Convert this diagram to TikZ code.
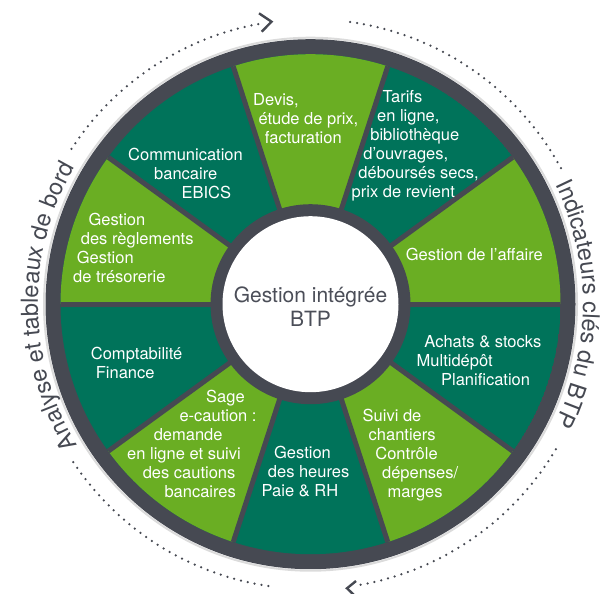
\documentclass[tikz,border=0pt]{standalone}
\usepackage{fontspec}
\setmainfont{TeX Gyre Heros}
\usetikzlibrary{decorations.text}
\definecolor{lg}{HTML}{6AAE23}
\definecolor{dg}{HTML}{00735A}
\definecolor{gr}{HTML}{464952}
\definecolor{ct}{HTML}{4B4E58}
\newcommand\outerfont{\fontsize{23.5}{28}\selectfont}
\begin{document}
\begin{tikzpicture}[x=1pt,y=1pt,
  segtext/.style={text=white, font=\fontsize{16.5}{19}\selectfont, align=left, anchor=base west, inner sep=0pt},
  centertext/.style={text=ct, font=\fontsize{21}{24}\selectfont, align=center, anchor=base, inner sep=0pt},
  dots/.style={gr, line width=2.5pt, line cap=round, dash pattern=on 0pt off 7pt},
  chevron/.style={gr, line width=2.4pt},
  divider/.style={gr, line width=5pt}]
\useasboundingbox (0,0) rectangle (605,-594);
\coordinate (C) at (310.5,-304.2);
% outer ring
\draw[black!14, line width=2pt] (C) circle[radius=266.5];
\fill[gr] (C) circle[radius=265];
% segments
\begin{scope}
  \clip (C) circle[radius=250];
  \fill[dg] (C) circle[radius=250];
  \foreach \a in {0,72,144,216,288}
    \fill[lg] (C) -- ([shift={(\a:300)}]C) arc[start angle=\a, end angle=\a+36, radius=300] -- cycle;
  \foreach \a in {0,36,...,324}
    \draw[divider] (C) -- ([shift={(\a:300)}]C);
\end{scope}
% inner hub
\fill[gr] (C) circle[radius=100];
\fill[white] (C) circle[radius=88];
% (multi-line nodes: base anchor = baseline of the last line)
\node[centertext] (hub) at (310.5,-326) {Gestion intégrée\\BTP};
% segment texts
\node[segtext] (devis) at (253,-143.3) {Devis,\\\hspace*{5.3pt}étude de prix,\\\hspace*{11.7pt}facturation};
\node[segtext] (tarifs) at (351.5,-197.5) {\hspace*{31pt}Tarifs\\\hspace*{25.4pt}en ligne,\\\hspace*{18.7pt}bibliothèque\\\hspace*{11.7pt}d’ouvrages,\\\hspace*{6.7pt}déboursés secs,\\prix de revient};
\node[segtext] (affaire) at (405.7,-260.7) {Gestion de l’affaire};
\node[segtext] (achats) at (416.5,-385.7) {\hspace*{7.7pt}Achats \& stocks\\Multidépôt\\\hspace*{24.4pt}Planification};
\node[segtext] (suivi) at (362.5,-497) {Suivi de\\\hspace*{6pt}chantiers\\\hspace*{12.7pt}Contrôle\\\hspace*{19.4pt}dépenses/\\\hspace*{25pt}marges};
\node[segtext] (heures) at (261.5,-496) {\hspace*{12.4pt}Gestion\\\hspace*{6.2pt}des heures\\Paie \& RH};
\node[segtext] (sage) at (127,-497) {\hspace*{79pt}Sage\\\hspace*{52.3pt}e-caution~:\\\hspace*{26.6pt}demande\\en ligne et suivi\\\hspace*{15.6pt}des cautions\\\hspace*{37.3pt}bancaires};
\node[segtext] (compta) at (90.7,-378.6) {Comptabilité\\\hspace*{5pt}Finance};
\node[segtext] (reglements) at (73,-282.7) {\hspace*{15.3pt}Gestion\\\hspace*{7.7pt}des règlements\\\hspace*{3.7pt}Gestion\\de trésorerie};
\node[segtext] (ebics) at (128,-198) {Communication\\\hspace*{26pt}bancaire\\\hspace*{53.3pt}EBICS};
% outer curved texts
\path[decorate, decoration={text along path, text align=center, text color=gr,
  text={|\outerfont|Analyse et tableaux de bord}}]
  ([shift={(231:272.5)}]C) arc[start angle=231, end angle=130, radius=272.5];
\path[decorate, decoration={text along path, text align=center, text color=gr,
  text={|\outerfont|Indicateurs clés du BTP}}]
  ([shift={(50:272.5)}]C) arc[start angle=50, end angle=-50, radius=272.5];
% dotted arcs
\draw[dots] ([shift={(147:285)}]C) arc[start angle=147, end angle=99.5, radius=285];
\draw[dots] ([shift={(82:285)}]C) arc[start angle=82, end angle=28.3, radius=285];
\draw[dots] ([shift={(-30.6:285)}]C) arc[start angle=-30.6, end angle=-81, radius=285];
\draw[dots] ([shift={(261.5:285)}]C) arc[start angle=261.5, end angle=213, radius=285];
% chevrons
\coordinate (ta1) at (259,-13.3);
\coordinate (ttip) at (271.5,-21.7);
\coordinate (ta2) at (261.7,-31.7);
\draw[chevron] (ta1) -- (ttip) -- (ta2);
\coordinate (ba1) at (356,-581);
\coordinate (btip) at (347,-588.3);
\coordinate (ba2) at (354,-595);
\draw[chevron] (ba1) -- (btip) -- (ba2);
\end{tikzpicture}
\end{document}
